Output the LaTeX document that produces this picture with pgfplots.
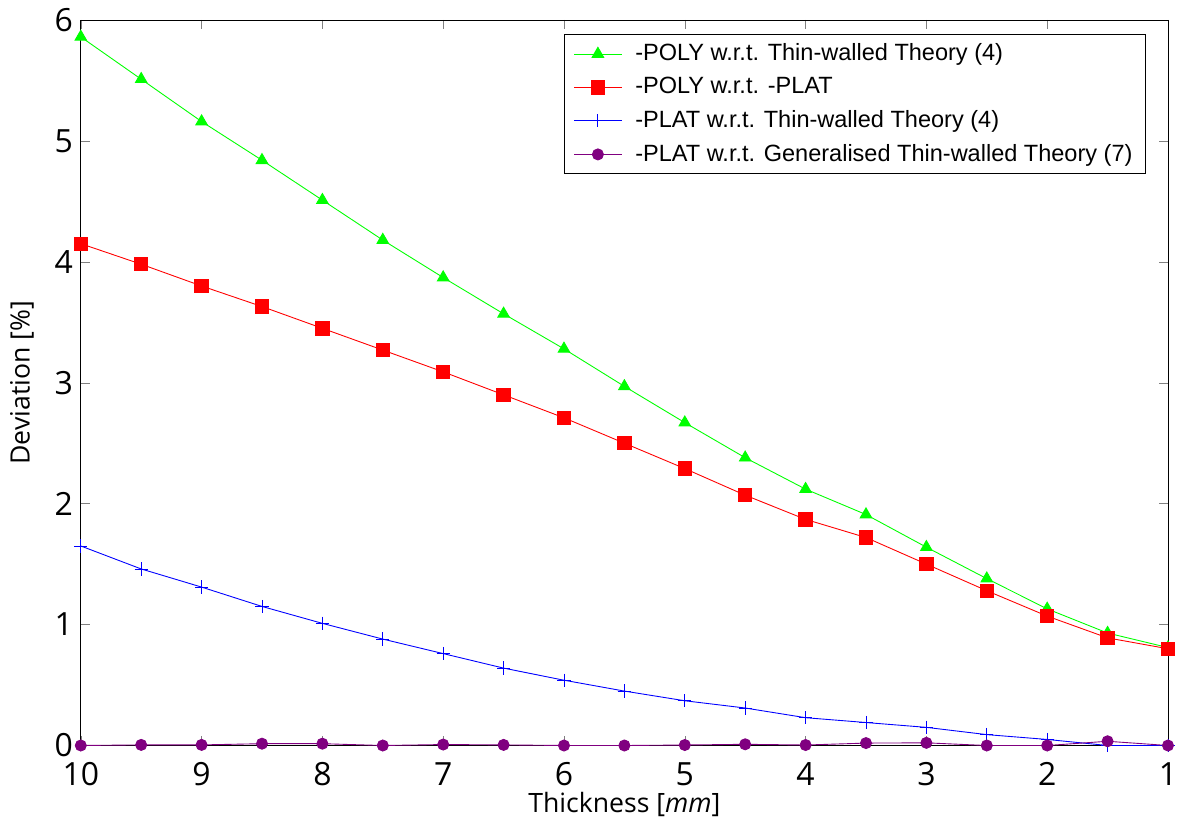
\documentclass[border=0pt]{standalone}
\usepackage{pgfplots}
\pgfplotsset{compat=1.18}
\usepackage{fontspec}
\setmainfont{Open Sans}
\newfontfamily\legendfont{Liberation Sans}

\pgfplotstableread{
x    polythin poly    platthin platgen
10   5.86     4.15    1.65     0.000
9.5  5.51     3.98    1.46     0.005
9    5.16     3.80    1.31     0.005
8.5  4.84     3.63    1.15     0.015
8    4.51     3.45    1.01     0.015
7.5  4.18     3.27    0.88     0.000
7    3.87     3.09    0.76     0.008
6.5  3.57     2.90    0.64     0.005
6    3.28     2.71    0.54     0.000
5.5  2.97     2.50    0.45     0.000
5    2.67     2.29    0.37     0.004
4.5  2.38     2.07    0.31     0.010
4    2.12     1.87    0.23     0.004
3.5  1.91     1.72    0.19     0.020
3    1.64     1.50    0.15     0.022
2.5  1.38     1.28    0.09     0.000
2    1.13     1.07    0.05     0.000
1.5  0.93     0.89    0.00     0.035
1    0.81     0.80    0.00     0.000
}\datatable

\begin{document}
\begin{tikzpicture}
% frame the page like the reference
\useasboundingbox (-36.42pt,-32.82pt) rectangle (494.5pt,336pt);
\begin{axis}[
    scale only axis,
    width=490pt, height=327pt,
    x dir=reverse,
    xmin=1, xmax=10,
    ymin=0, ymax=6,
    xtick={1,2,3,4,5,6,7,8,9,10},
    ytick={0,1,2,3,4,5,6},
    xlabel={Thickness [\textit{mm}]},
    ylabel={Deviation [\%]},
    ylabel shift=2.5pt,
    xlabel style={at={(axis description cs:0.5,0)}, anchor=center, yshift=-26.5pt},
    /pgf/number format/assume math mode=true,
    tick label style={font=\Large},
    xticklabel style={yshift=-4pt},
    label style={font=\large},
    legend style={font=\legendfont\fontsize{10.6}{13}\selectfont,
        at={(0.98,0.98)}, anchor=north east,
        row sep=2pt, column sep=4pt, inner xsep=4pt},
    legend cell align=left,
    legend image code/.code={
        \draw[mark repeat=2,mark phase=2,#1]
            plot coordinates {(0cm,0cm) (0.375cm,0cm) (0.75cm,0cm)};},
]

\addplot[color=green, mark=triangle*, mark size=3pt]
    table[x=x, y=polythin] {\datatable};
\addlegendentry{-POLY w.r.t. Thin-walled Theory (4)}

\addplot[color=red, mark=square*, mark size=3pt]
    table[x=x, y=poly] {\datatable};
\addlegendentry{-POLY w.r.t. -PLAT}

\addplot[color=blue, mark=+, mark size=3pt]
    table[x=x, y=platthin] {\datatable};
\addlegendentry{-PLAT w.r.t. Thin-walled Theory (4)}

\addplot[color=violet, mark=*, mark size=2.5pt]
    table[x=x, y=platgen] {\datatable};
\addlegendentry{-PLAT w.r.t. Generalised Thin-walled Theory (7)}

\end{axis}
\end{tikzpicture}
\end{document}
